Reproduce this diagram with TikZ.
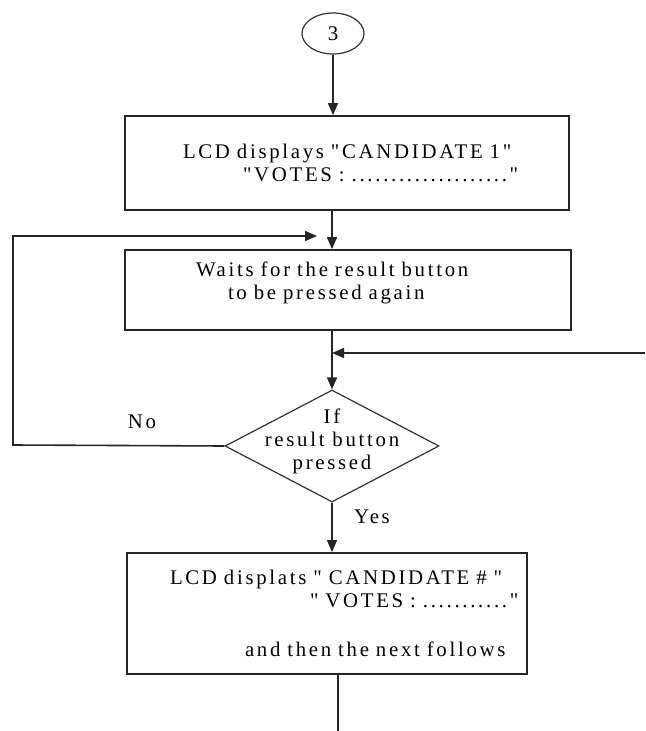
\documentclass[tikz,border=0pt]{standalone}
\usepackage{fontspec}
\setmainfont[LetterSpace=13,Ligatures=TeXReset]{Liberation Serif}
\usetikzlibrary{shapes.geometric,arrows.meta}

\begin{document}
\begin{tikzpicture}[x=0.5pt,y=-0.5pt,>={Triangle[length=6pt,width=5pt]},
    every node/.style={font=\fontsize{10.4}{11.5}\selectfont},
    block/.style={rectangle,draw=black!85,line width=0.9pt,inner sep=0pt,align=left},
    flow/.style={->,line width=0.8pt,black!85}]
    \useasboundingbox (0,0) rectangle (645,731);

    \node[ellipse,draw=black!80,line width=0.6pt,minimum width=31pt,minimum height=20.5pt,inner sep=0pt] (c3) at (333,33.5) {3};

    \node[block,minimum width=222pt,minimum height=47pt,text width=222pt] (b1) at (347,163)
        {\hspace*{29pt}LCD displays "CANDIDATE 1"\\ \hspace*{59pt}"VOTES : ...................."};

    \node[block,minimum width=223pt,minimum height=40pt,text width=223pt] (b2) at (348,290)
        {\hspace*{35.5pt}Waits for the result button\\ \hspace*{51.5pt}to be pressed again\\[-6pt]\strut};

    \node[diamond,draw=black!80,line width=0.6pt,minimum width=107pt,minimum height=56pt,inner sep=0pt,
        label={[align=center,yshift=2.5pt]center:If\\ result button\\ pressed}] (dec) at (332,446) {};

    \node[block,minimum width=200pt,minimum height=60.5pt,text width=200pt] (b3) at (327,613.5)
        {\hspace*{21.5pt}LCD displats " CANDIDATE \# "\\ \hspace*{91.5pt}" VOTES : ..........."\\[13pt]
         \hspace*{59pt}and then the next follows};

    \node (no) at (142,422) {No};
    \node (yes) at (372,517) {Yes};

    \coordinate (loopin) at (317,236);
    \coordinate (loopx) at (13,445);
    \coordinate (rin) at (645,353);
    \coordinate (fin) at (338,731);

    \draw[flow] (c3) -- (c3 |- b1.north);
    \draw[flow] (b1.south -| dec.north) -- (b2.north -| dec.north);
    \draw[flow] (b2.south -| dec.north) -- (dec.north);
    \draw[flow] (rin) -- (rin -| dec.north);
    \draw[flow] (dec.west) -- (loopx) |- (loopin);
    \draw[flow] (dec.south) -- (dec.south |- b3.north);
    \draw[line width=0.8pt,black!85] (fin |- b3.south) -- (fin);
\end{tikzpicture}
\end{document}
